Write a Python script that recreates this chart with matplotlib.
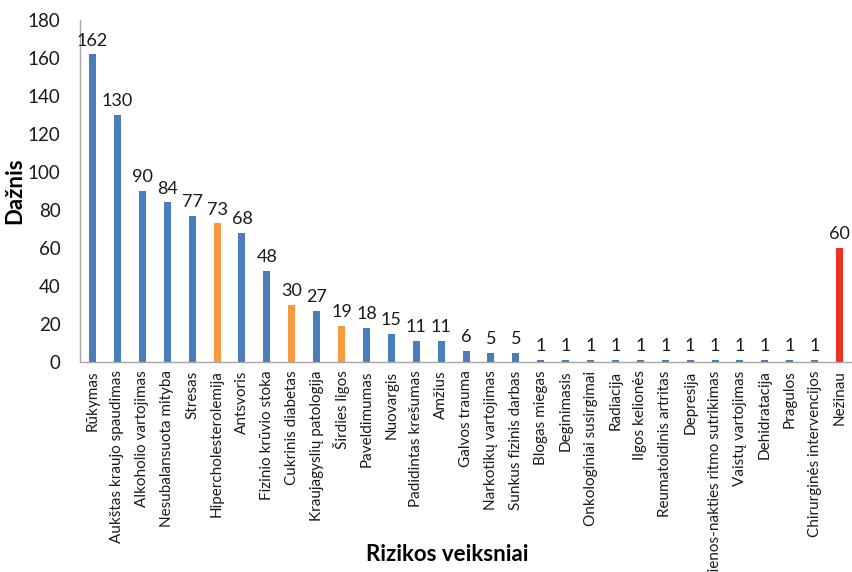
import matplotlib
matplotlib.use("Agg")
import matplotlib.pyplot as plt

categories = [
    "Rūkymas", "Aukštas kraujo spaudimas", "Alkoholio vartojimas",
    "Nesubalansuota mityba", "Stresas", "Hipercholesterolemija", "Antsvoris",
    "Fizinio krūvio stoka", "Cukrinis diabetas", "Kraujagyslių patologija",
    "Širdies ligos", "Paveldimumas", "Nuovargis", "Padidintas krešumas",
    "Amžius", "Galvos trauma", "Narkotikų vartojimas", "Sunkus fizinis darbas",
    "Blogas miegas", "Deginimasis", "Onkologiniai susirgimai", "Radiacija",
    "Ilgos kelionės", "Reumatoidinis artritas", "Depresija",
    "Dienos-nakties ritmo sutrikimas", "Vaistų vartojimas", "Dehidratacija",
    "Pragulos", "Chirurginės intervencijos", "Nežinau",
]
values = [162, 130, 90, 84, 77, 73, 68, 48, 30, 27, 19, 18, 15, 11, 11, 6, 5, 5,
          1, 1, 1, 1, 1, 1, 1, 1, 1, 1, 1, 1, 60]
groups = ["b", "b", "b", "b", "b", "o", "b", "b", "o", "b", "o", "b", "b", "b",
          "b", "b", "b", "b", "b", "b", "b", "b", "b", "b", "b", "b", "b", "b",
          "b", "b", "r"]
palette = {"b": "#4a7ebb", "o": "#f79a3e", "r": "#ec3323"}

plt.rcParams["font.family"] = ["Lato", "DejaVu Sans"]

fig = plt.figure(figsize=(8.52, 5.72), dpi=100)
ax = fig.add_axes([0.094, 0.367, 0.906, 0.598])

x = list(range(len(categories)))
ax.bar(x, values, width=0.28, color=[palette[g] for g in groups])
for xi, v in zip(x, values):
    ax.text(xi, v + 3, str(v), ha="center", va="bottom", fontsize=13,
            color="#1a1a1a")

ax.set_xlim(-0.5, len(categories) - 0.5)
ax.set_ylim(0, 180)
ax.set_yticks(range(0, 181, 20))
ax.set_xticks(x)
ax.set_xticklabels(categories, rotation=90, fontsize=11, color="#1a1a1a")
ax.tick_params(axis="y", length=0, pad=14, labelsize=13.5, labelcolor="#1a1a1a")
ax.tick_params(axis="x", length=0, pad=6)

for side in ("top", "right"):
    ax.spines[side].set_visible(False)
for side in ("left", "bottom"):
    ax.spines[side].set_color("#a6a6a6")
    ax.spines[side].set_linewidth(1.0)

ax.set_ylabel("Dažnis", fontsize=16, fontweight="bold")
ax.yaxis.set_label_coords(-0.071, 0.5)
fig.text(0.525, 0.03, "Rizikos veiksniai", ha="center", va="center",
         fontsize=16, fontweight="bold")

fig.savefig("out.png", dpi=100)
